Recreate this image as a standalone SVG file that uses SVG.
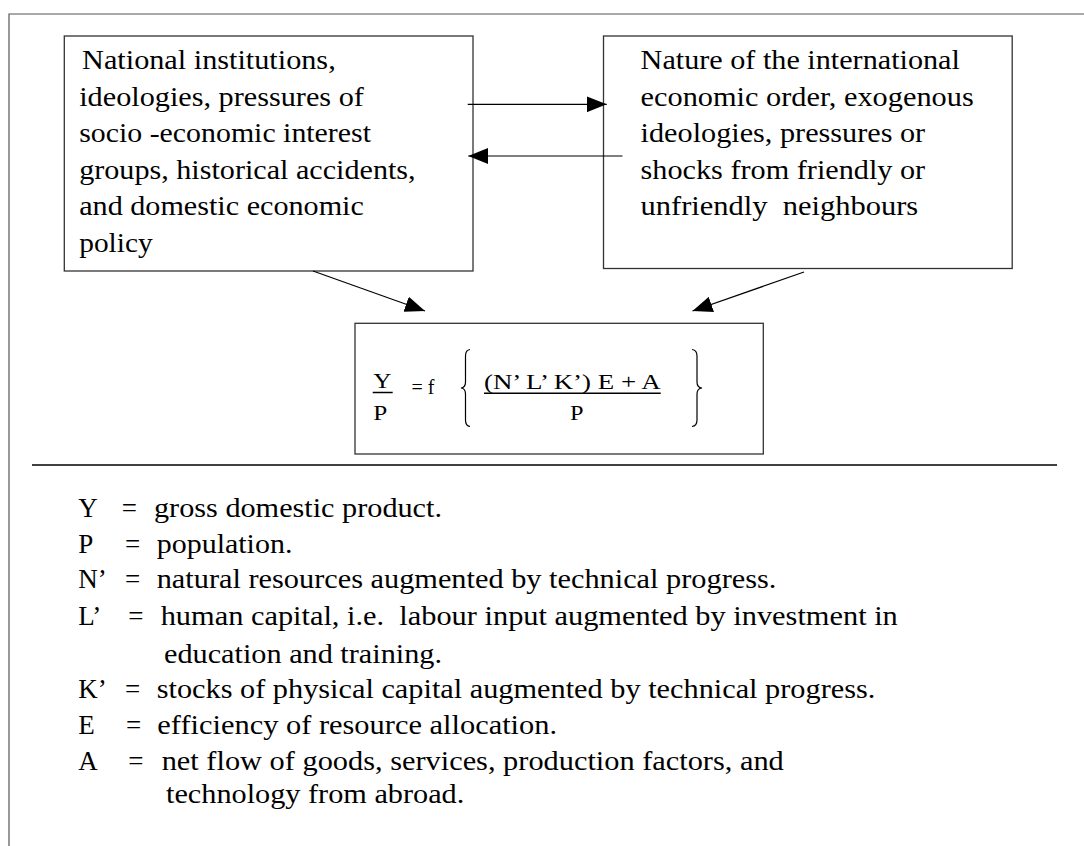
<svg xmlns="http://www.w3.org/2000/svg" width="1084" height="846" viewBox="0 0 1084 846" font-family="'Liberation Serif','Times New Roman',serif">
<defs>
<style>
text{font-family:"Liberation Serif","Times New Roman",serif;fill:#000;white-space:pre}
.b{font-size:27px}
.f{font-size:20px}
.box{fill:#fff;stroke:#333;stroke-width:1.3}
.con{stroke:#000;stroke-width:1.2;fill:none}
</style>
<marker id="ah" markerUnits="userSpaceOnUse" markerWidth="20" markerHeight="16" refX="20" refY="8" orient="auto">
<path d="M0,0 L20,8 L0,16 z" fill="#000"/>
</marker>
</defs>
<rect width="1084" height="846" fill="#fff"/>
<g id="frame">
<path d="M9,846 V14 H1084" fill="none" stroke="#555" stroke-width="1.2"/>
<line x1="32" y1="465" x2="1057" y2="465" stroke="#000" stroke-width="1.5"/>
</g>
<g id="node-domestic">
<rect class="box" x="64.3" y="36" width="408.7" height="235"/>
<text class="b" x="82.1" y="69" textLength="253.6" lengthAdjust="spacingAndGlyphs">National institutions,</text>
<text class="b" x="79.2" y="105.5" textLength="284.7" lengthAdjust="spacingAndGlyphs">ideologies, pressures of</text>
<text class="b" x="79.2" y="142" textLength="291.8" lengthAdjust="spacingAndGlyphs">socio -economic interest</text>
<text class="b" x="79.2" y="178.5" textLength="336.4" lengthAdjust="spacingAndGlyphs">groups, historical accidents,</text>
<text class="b" x="79.2" y="215" textLength="284.7" lengthAdjust="spacingAndGlyphs">and domestic economic</text>
<text class="b" x="79.2" y="251.5" textLength="73.5" lengthAdjust="spacingAndGlyphs">policy</text>
</g>
<g id="node-international">
<rect class="box" x="603.5" y="36" width="408.7" height="232.5"/>
<text class="b" x="640.6" y="69" textLength="319.3" lengthAdjust="spacingAndGlyphs">Nature of the international</text>
<text class="b" x="640.6" y="105.5" textLength="333.1" lengthAdjust="spacingAndGlyphs">economic order, exogenous</text>
<text class="b" x="640.6" y="142" textLength="284.6" lengthAdjust="spacingAndGlyphs">ideologies, pressures or</text>
<text class="b" x="640.6" y="178.5" textLength="284.6" lengthAdjust="spacingAndGlyphs">shocks from friendly or</text>
<text class="b" x="640.6" y="215" textLength="277.6" lengthAdjust="spacingAndGlyphs">unfriendly  neighbours</text>
</g>
<g id="node-formula">
<rect class="box" x="355" y="323.3" width="408.3" height="130.7"/>
<text class="f" x="373.3" y="388" textLength="18.3" lengthAdjust="spacingAndGlyphs">Y</text>
<line x1="372.7" y1="392.5" x2="392.7" y2="392.5" stroke="#000" stroke-width="1.5"/>
<text class="f" x="373.3" y="420" textLength="14" lengthAdjust="spacingAndGlyphs">P</text>
<text class="f" x="411.5" y="393.5">= f</text>
<path d="M470,349.5 Q465.5,350 465.5,356 V382 Q465.5,387.5 461,388 Q465.5,388.5 465.5,394 V420 Q465.5,426 470,426.5" fill="none" stroke="#000" stroke-width="1.2"/>
<text class="f" x="484" y="389" textLength="176.7" lengthAdjust="spacingAndGlyphs">(N’ L’ K’) E + A</text>
<line x1="484" y1="393.3" x2="660.7" y2="393.3" stroke="#000" stroke-width="1.5"/>
<text class="f" x="570" y="420" textLength="13.5" lengthAdjust="spacingAndGlyphs">P</text>
<path d="M692,349.5 Q697,350 697,356 V382 Q697,387.5 702,388 Q697,388.5 697,394 V420 Q697,426 692,426.5" fill="none" stroke="#000" stroke-width="1.2"/>
</g>
<g id="connectors">
<line class="con" x1="467.7" y1="104.3" x2="606.7" y2="104.3" marker-end="url(#ah)"/>
<line class="con" x1="622.5" y1="156" x2="468.3" y2="156" marker-end="url(#ah)"/>
<line class="con" x1="313" y1="271" x2="425" y2="311" marker-end="url(#ah)"/>
<line class="con" x1="804" y1="272" x2="692.5" y2="311" marker-end="url(#ah)"/>
</g>
<g id="legend">
<text class="b" x="78.3" y="516.7">Y</text>
<text class="b" x="121.7" y="516.7">=</text>
<text class="b" x="154" y="516.7" textLength="288" lengthAdjust="spacingAndGlyphs">gross domestic product.</text>
<text class="b" x="78.3" y="552.7">P</text>
<text class="b" x="125" y="552.7">=</text>
<text class="b" x="156.7" y="552.7" textLength="135.7" lengthAdjust="spacingAndGlyphs">population.</text>
<text class="b" x="78.3" y="588.3">N’</text>
<text class="b" x="125" y="588.3">=</text>
<text class="b" x="156.7" y="588.3" textLength="619.7" lengthAdjust="spacingAndGlyphs">natural resources augmented by technical progress.</text>
<text class="b" x="78.3" y="625">L’</text>
<text class="b" x="128.3" y="625">=</text>
<text class="b" x="160.7" y="625" textLength="737.1" lengthAdjust="spacingAndGlyphs">human capital, i.e.  labour input augmented by investment in</text>
<text class="b" x="164" y="663.3" textLength="278" lengthAdjust="spacingAndGlyphs">education and training.</text>
<text class="b" x="78.3" y="698.3">K’</text>
<text class="b" x="125" y="698.3">=</text>
<text class="b" x="156.7" y="698.3" textLength="718.7" lengthAdjust="spacingAndGlyphs">stocks of physical capital augmented by technical progress.</text>
<text class="b" x="78.3" y="734.3">E</text>
<text class="b" x="126" y="734.3">=</text>
<text class="b" x="157.3" y="734.3" textLength="399.8" lengthAdjust="spacingAndGlyphs">efficiency of resource allocation.</text>
<text class="b" x="78.3" y="770">A</text>
<text class="b" x="128.3" y="770">=</text>
<text class="b" x="161.7" y="770" textLength="622.1" lengthAdjust="spacingAndGlyphs">net flow of goods, services, production factors, and</text>
<text class="b" x="166" y="803.3" textLength="298.3" lengthAdjust="spacingAndGlyphs">technology from abroad.</text>
</g>
</svg>
